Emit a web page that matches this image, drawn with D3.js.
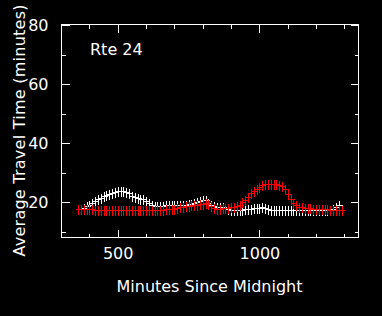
<!DOCTYPE html>
<html>
<head>
<meta charset="utf-8">
<script src="https://cdn.jsdelivr.net/npm/d3@7"></script>
<style>
  html, body { margin: 0; padding: 0; background: #000; }
  svg { display: block; }
  text { font-family: "DejaVu Sans", sans-serif; fill: #fff; }
</style>
</head>
<body>
<script>
width = 382;
height = 316;

// route label
routeName = "Rte 24";

// white series: x in minutes since midnight, y travel time
whiteX = d3.range(380, 1290, 10);
whiteY = [18.0, 18.6, 19.2, 19.8, 20.4, 21.0, 21.5, 22.0, 22.5, 22.9,
  23.2, 23.5, 23.7, 23.8, 23.8, 23.6, 23.0, 22.2, 21.6, 21.3,
  21.2, 21.0, 20.4, 19.6, 19.0, 18.8, 18.7, 18.7, 18.8, 18.9,
  18.9, 19.0, 19.0, 19.1, 19.1, 19.2, 19.2, 19.3, 19.4, 19.6,
  19.9, 20.3, 20.7, 20.6, 19.8, 19.0, 18.7, 18.5, 18.3, 18.2,
  18.0, 17.8, 17.5, 17.3, 17.3, 17.4, 17.5, 17.6, 17.7, 17.8,
  17.9, 18.0, 18.1, 18.2, 18.1, 17.7, 17.4, 17.3, 17.2, 17.2,
  17.2, 17.2, 17.2, 17.2, 17.3, 17.3, 17.3, 17.3, 17.3, 17.3,
  17.3, 17.3, 17.3, 17.3, 17.3, 17.3, 17.3, 17.4, 17.6, 18.5,
  19.2];

// red series
redX = d3.range(360, 1300, 10);
redY = [17.6, 17.6, 17.6, 17.6, 17.6, 17.6, 17.5, 17.5, 17.5, 17.5,
  17.5, 17.5, 17.4, 17.4, 17.4, 17.4, 17.3, 17.3, 17.3, 17.3,
  17.3, 17.3, 17.3, 17.3, 17.3, 17.3, 17.3, 17.4, 17.4, 17.4,
  17.5, 17.6, 17.6, 17.6, 17.8, 18.0, 18.2, 18.4, 18.6, 18.8,
  19.0, 19.1, 19.2, 19.3, 19.5, 19.7, 19.4, 18.6, 18.0, 17.8,
  17.8, 17.9, 18.0, 18.1, 18.3, 18.5, 18.8, 19.2, 19.9, 20.8,
  21.9, 23.0, 23.8, 24.6, 25.3, 25.8, 26.1, 26.2, 26.2, 26.1,
  26.0, 25.8, 25.5, 24.5, 22.8, 21.0, 19.8, 18.9, 18.4, 18.2,
  18.1, 18.0, 17.9, 17.8, 17.7, 17.7, 17.6, 17.6, 17.6, 17.5,
  17.5, 17.5, 17.5, 17.5];

xMajor = [500, 1000];
xMinor = d3.range(400, 1400, 100);
yMajor = [20, 40, 60, 80];
yMinor = d3.range(10, 80, 10);

margin = {top: 24, right: 24, bottom: 79, left: 61};

svg = d3.select("body").append("svg")
    .attr("width", width)
    .attr("height", height)
    .attr("viewBox", [0, 0, width, height]);

svg.append("rect").attr("width", width).attr("height", height).attr("fill", "#000");

x = d3.scaleLinear()
    .domain([300, 1348])
    .range([margin.left, width - margin.right]);

y = d3.scaleLinear()
    .domain([8.2, 80.4])
    .range([height - margin.bottom, margin.top]);

plotW = width - margin.right - margin.left;
plotH = height - margin.bottom - margin.top;

function styleAxis(g) {
  g.select(".domain").remove();
  g.selectAll("line").attr("stroke", "#fff").attr("shape-rendering", "crispEdges");
  g.selectAll("text").attr("fill", "#fff").style("font-size", "16px")
    .style("font-family", "'DejaVu Sans', sans-serif");
}

// minor ticks, all four sides
svg.append("g").attr("transform", `translate(0,${y.range()[0] + 0.5})`)
    .call(d3.axisBottom(x).tickValues(xMinor).tickSize(-4).tickFormat(""))
    .call(styleAxis);
svg.append("g").attr("transform", `translate(0,${y.range()[1] + 0.5})`)
    .call(d3.axisTop(x).tickValues(xMinor).tickSize(-4).tickFormat(""))
    .call(styleAxis);
svg.append("g").attr("transform", `translate(${x.range()[0] + 0.5},0)`)
    .call(d3.axisLeft(y).tickValues(yMinor).tickSize(-4).tickFormat(""))
    .call(styleAxis);
svg.append("g").attr("transform", `translate(${x.range()[1] + 0.5},0)`)
    .call(d3.axisRight(y).tickValues(yMinor).tickSize(-4).tickFormat(""))
    .call(styleAxis);

// major ticks with labels
svg.append("g").attr("transform", `translate(0,${y.range()[0] + 0.5})`)
    .call(d3.axisBottom(x).tickValues(xMajor).tickSize(-8).tickPadding(10).tickFormat(d3.format("d")))
    .call(styleAxis);
svg.append("g").attr("transform", `translate(0,${y.range()[1] + 0.5})`)
    .call(d3.axisTop(x).tickValues(xMajor).tickSize(-8).tickFormat(""))
    .call(styleAxis);
svg.append("g").attr("transform", `translate(${x.range()[0] + 0.5},0)`)
    .call(d3.axisLeft(y).tickValues(yMajor).tickSize(-8).tickPadding(13).tickFormat(d3.format("d")))
    .call(styleAxis);
svg.append("g").attr("transform", `translate(${x.range()[1] + 0.5},0)`)
    .call(d3.axisRight(y).tickValues(yMajor).tickSize(-8).tickFormat(""))
    .call(styleAxis);

// frame
svg.append("rect")
    .attr("x", margin.left + 0.5)
    .attr("y", margin.top + 0.5)
    .attr("width", plotW)
    .attr("height", plotH)
    .attr("fill", "none")
    .attr("stroke", "#fff")
    .attr("shape-rendering", "crispEdges");

function drawSeries(xs, ys, color) {
  const pts = xs.map((d, i) => [d, ys[i]]);
  const g = svg.append("g")
      .attr("stroke", color)
      .attr("shape-rendering", "crispEdges");
  const m = g.selectAll("g").data(pts).join("g")
      .attr("transform", d => `translate(${Math.round(x(d[0])) + 0.5},${Math.round(y(d[1])) + 0.5})`);
  m.append("line").attr("x1", -3).attr("x2", 3);
  m.append("line").attr("y1", -5).attr("y2", 5);
}

drawSeries(whiteX, whiteY, "#fff");
drawSeries(redX, redY, "#ff0000");

// route label
svg.append("text")
    .attr("x", 90)
    .attr("y", 55)
    .style("font-size", "16px")
    .text(routeName);

// axis titles
svg.append("text")
    .attr("x", margin.left + plotW / 2)
    .attr("y", 292)
    .attr("text-anchor", "middle")
    .style("font-size", "16px")
    .attr("textLength", 186)
    .text("Minutes Since Midnight");

svg.append("text")
    .attr("transform", `translate(25,${margin.top + plotH / 2}) rotate(-90)`)
    .attr("text-anchor", "middle")
    .style("font-size", "16px")
    .attr("textLength", 252)
    .text("Average Travel Time (minutes)");
</script>
</body>
</html>
